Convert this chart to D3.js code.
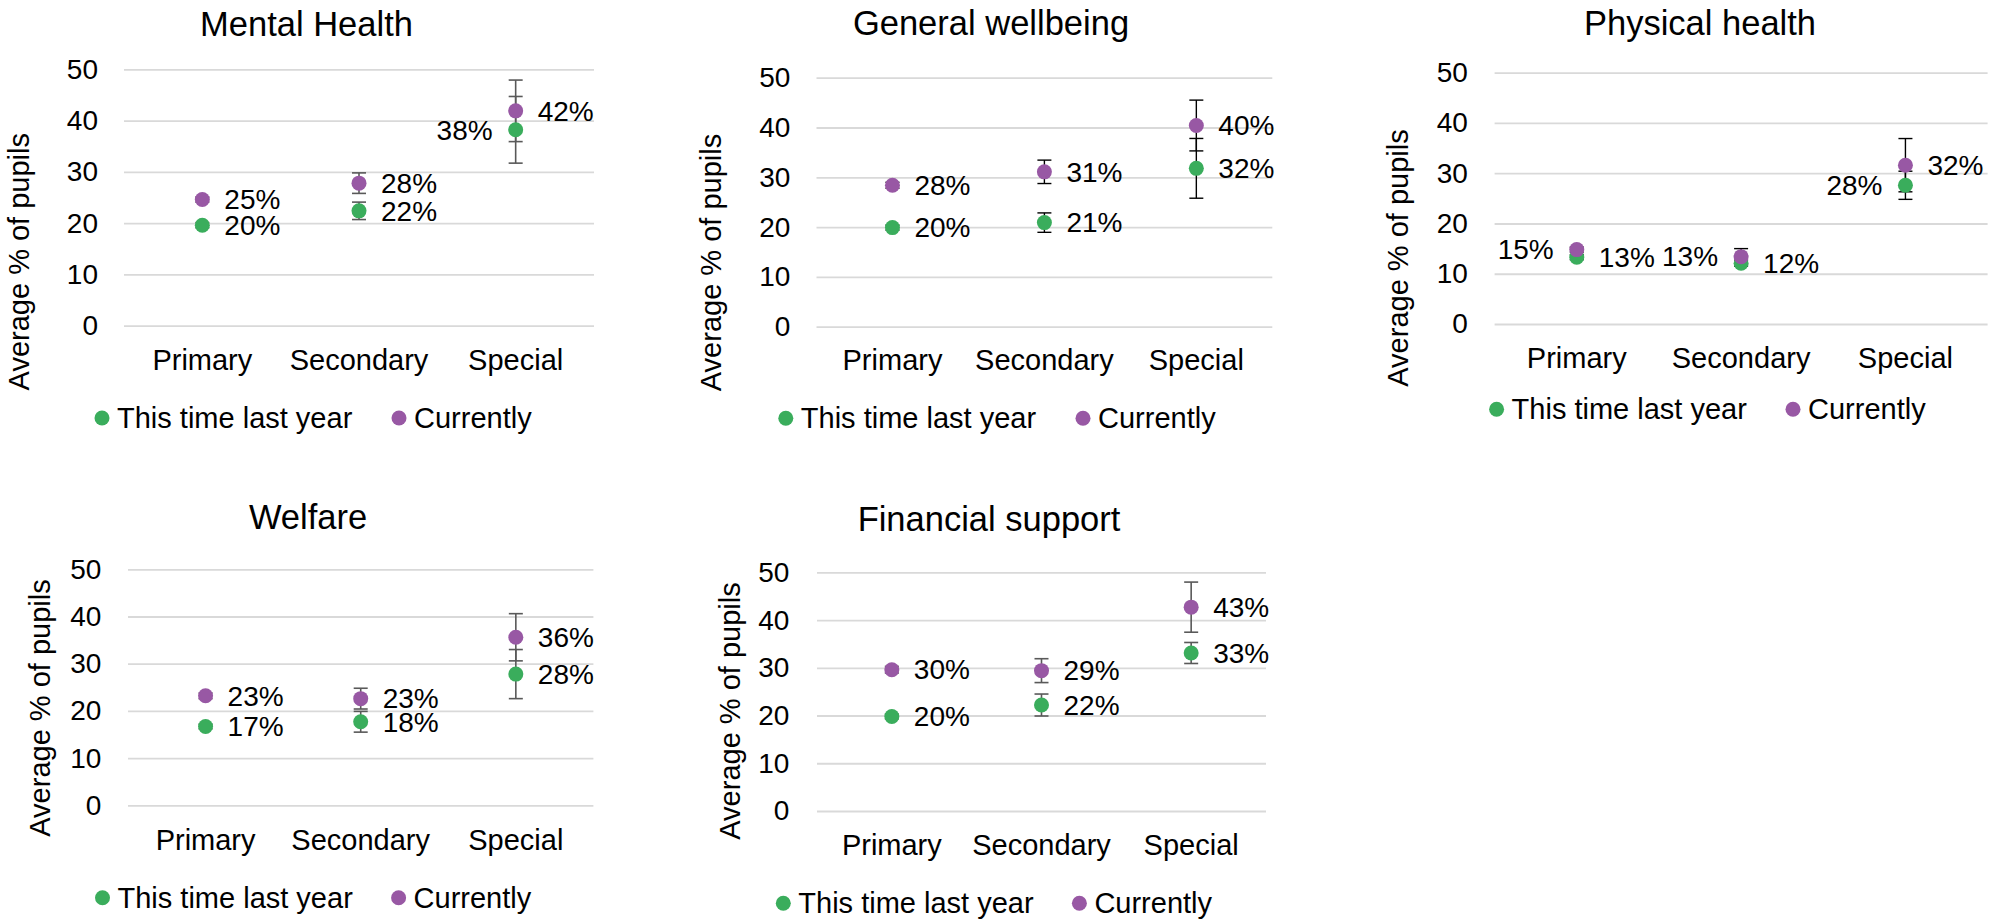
<!DOCTYPE html>
<html>
<head>
<meta charset="utf-8">
<script src="https://cdn.jsdelivr.net/npm/d3@7"></script>
<style>
  body { margin: 0; background: #fff; }
  svg { display: block; font-family: "Liberation Sans", Arial, sans-serif; }
</style>
</head>
<body>
<svg id="chart" width="2002" height="919"></svg>
<script>
// categories and series (one row per panel)
const categories = ["Primary", "Secondary", "Special"];
const panelTitles = ["Mental Health", "General wellbeing", "Physical health", "Welfare", "Financial support"];
const seriesNames = ["This time last year", "Currently"];
const yTicks = [0, 10, 20, 30, 40, 50];

const lastYearValues = [
  [19.6, 22.4, 38.2],
  [19.9, 20.9, 31.8],
  [13.3, 12.1, 27.6],
  [16.7, 17.7, 27.8],
  [19.8, 22.2, 33.1]
];
const currentValues = [
  [24.6, 27.8, 41.9],
  [28.4, 31.1, 40.4],
  [14.8, 13.4, 31.6],
  [23.2, 22.6, 35.6],
  [29.6, 29.4, 42.7]
];
const lastYearErrors = [
  [0.5, 1.7, 6.5],
  [0.5, 1.95, 6.0],
  [0.5, 0.6, 2.8],
  [0.5, 2.2, 5.2],
  [0.5, 2.3, 2.2]
];
const currentErrors = [
  [0.5, 2.0, 6.0],
  [0.6, 2.35, 5.1],
  [0.5, 1.6, 5.3],
  [0.6, 2.2, 5.0],
  [0.7, 2.5, 5.25]
];

const colors = ["#3aad5c", "#9858a4"];

// panel layout (pixel boxes of each small chart)
const layout = [
  {x0: 124, x1: 594, yTop: 69.3, yBot: 325.7, titleX: 306.5, titleY: 35.7, tickRight: 98, axisX: 29, axisY: 261.7, catY: 370, legY: 418, legDots: [102, 399], err: "#595959", left: [[2], []]},
  {x0: 816.5, x1: 1272.3, yTop: 77.7, yBot: 326.7, titleX: 991, titleY: 35, tickRight: 790.4, axisX: 720.6, axisY: 262.5, catY: 370, legY: 418.3, legDots: [785.8, 1083], err: "#000", left: [[], []]},
  {x0: 1494.6, x1: 1987.6, yTop: 72.7, yBot: 324, titleX: 1700, titleY: 35, tickRight: 1467.8, axisX: 1408, axisY: 258, catY: 368.3, legY: 409.3, legDots: [1496.6, 1793], err: "#000", left: [[2], [0, 1]]},
  {x0: 128, x1: 593.4, yTop: 569.3, yBot: 805.3, titleX: 308, titleY: 529.3, tickRight: 101.4, axisX: 49.7, axisY: 708, catY: 850, legY: 897.7, legDots: [102.5, 398.6], err: "#595959", left: [[], []]},
  {x0: 817, x1: 1266, yTop: 572.3, yBot: 811, titleX: 989, titleY: 530.7, tickRight: 789.3, axisX: 739.7, axisY: 711, catY: 855, legY: 903.3, legDots: [783.3, 1079.4], err: "#595959", left: [[], []]}
];

const svg = d3.select("#chart");
const fmt = d3.format(".0f");

layout.forEach((p, i) => drawPanel(p, i));

function drawPanel(p, i) {
  const g = svg.append("g");

  const x = d3.scaleBand().domain(categories).range([p.x0, p.x1]);
  const y = d3.scaleLinear().domain([0, 50]).range([p.yBot, p.yTop]);
  const cx = c => x(c) + x.bandwidth() / 2;

  // title
  g.append("text")
    .attr("x", p.titleX).attr("y", p.titleY)
    .attr("text-anchor", "middle")
    .attr("font-size", 34.5)
    .text(panelTitles[i]);

  // gridlines + y tick labels
  const yAxis = g.append("g")
    .attr("transform", `translate(${p.x0},0)`)
    .call(d3.axisLeft(y).tickValues(yTicks).tickSize(-(p.x1 - p.x0)).tickPadding(p.x0 - p.tickRight));
  yAxis.select(".domain").remove();
  yAxis.selectAll(".tick line").attr("stroke", "#d9d9d9").attr("stroke-width", 1.8);
  yAxis.selectAll(".tick text")
    .attr("font-size", 28).attr("font-family", "Liberation Sans, Arial, sans-serif")
    .attr("fill", "#000");

  // category labels
  const xAxis = g.append("g")
    .attr("transform", `translate(0,${p.yBot})`)
    .call(d3.axisBottom(x).tickSize(0));
  xAxis.select(".domain").remove();
  xAxis.selectAll(".tick text")
    .attr("y", p.catY - p.yBot).attr("dy", null)
    .attr("font-size", 29).attr("font-family", "Liberation Sans, Arial, sans-serif")
    .attr("fill", "#000");

  // y axis title
  g.append("text")
    .attr("transform", `translate(${p.axisX},${p.axisY}) rotate(-90)`)
    .attr("text-anchor", "middle")
    .attr("font-size", 29)
    .text("Average % of pupils");

  const series = [
    {vals: lastYearValues[i], errs: lastYearErrors[i], color: colors[0], left: p.left[0]},
    {vals: currentValues[i], errs: currentErrors[i], color: colors[1], left: p.left[1]}
  ];

  // error bars
  series.forEach(s => {
    const eb = g.append("g").attr("stroke", p.err).attr("stroke-width", p.err === "#000" ? 1.4 : 1.6);
    categories.forEach((c, k) => {
      const v = s.vals[k], e = s.errs[k];
      eb.append("line").attr("x1", cx(c)).attr("x2", cx(c)).attr("y1", y(v - e)).attr("y2", y(v + e));
      [v - e, v + e].forEach(t => {
        eb.append("line").attr("x1", cx(c) - 7).attr("x2", cx(c) + 7).attr("y1", y(t)).attr("y2", y(t));
      });
    });
  });

  // markers and value labels
  series.forEach(s => {
    g.append("g").selectAll("circle")
      .data(categories)
      .join("circle")
      .attr("cx", cx)
      .attr("cy", (c, k) => y(s.vals[k]))
      .attr("r", 7.5)
      .attr("fill", s.color);

    g.append("g").selectAll("text")
      .data(categories)
      .join("text")
      .attr("x", (c, k) => s.left.includes(k) ? cx(c) - 23 : cx(c) + 22)
      .attr("y", (c, k) => y(s.vals[k]))
      .attr("dy", "0.35em")
      .attr("text-anchor", (c, k) => s.left.includes(k) ? "end" : "start")
      .attr("font-size", 28)
      .text((c, k) => fmt(s.vals[k]) + "%");
  });

  // legend
  const leg = g.append("g");
  seriesNames.forEach((name, k) => {
    leg.append("circle")
      .attr("cx", p.legDots[k]).attr("cy", p.legY)
      .attr("r", 7.5).attr("fill", colors[k]);
    leg.append("text")
      .attr("x", p.legDots[k] + 15).attr("y", p.legY)
      .attr("dy", "0.35em")
      .attr("font-size", 29)
      .text(name);
  });
}
</script>
</body>
</html>
